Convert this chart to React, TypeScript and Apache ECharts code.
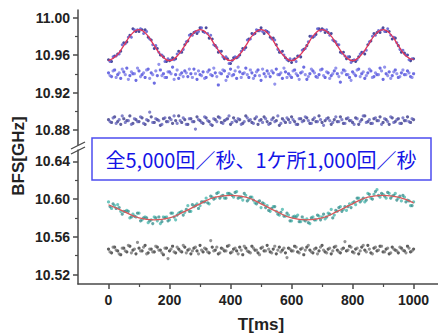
import React, { useEffect, useRef } from "react";
import * as echarts from "echarts";

// ---- data ----
const TIME_A = [0,10,20,30,40,50,60,70,80,90,100,110,120,130,140,150,160,170,180,190,200,210,220,230,240,250,260,270,280,290,300,310,320,330,340,350,360,370,380,390,400,410,420,430,440,450,460,470,480,490,500,510,520,530,540,550,560,570,580,590,600,610,620,630,640,650,660,670,680,690,700,710,720,730,740,750,760,770,780,790,800,810,820,830,840,850,860,870,880,890,900,910,920,930,940,950,960,970,980,990,1000];
const TIME_B = [5,15,25,35,45,55,65,75,85,95,105,115,125,135,145,155,165,175,185,195,205,215,225,235,245,255,265,275,285,295,305,315,325,335,345,355,365,375,385,395,405,415,425,435,445,455,465,475,485,495,505,515,525,535,545,555,565,575,585,595,605,615,625,635,645,655,665,675,685,695,705,715,725,735,745,755,765,775,785,795,805,815,825,835,845,855,865,875,885,895,905,915,925,935,945,955,965,975,985,995];

const UP_SINE_A = [10.955,10.953,10.959,10.961,10.964,10.973,10.974,10.981,10.988,10.985,
10.985,10.987,10.987,10.979,10.976,10.967,10.967,10.960,10.958,10.953,
10.954,10.957,10.956,10.964,10.963,10.971,10.975,10.982,10.984,10.983,
10.989,10.985,10.989,10.978,10.977,10.970,10.963,10.964,10.956,10.956,
10.951,10.957,10.957,10.960,10.967,10.968,10.977,10.983,10.983,10.986,
10.989,10.983,10.985,10.979,10.978,10.971,10.963,10.964,10.957,10.954,
10.952,10.956,10.959,10.958,10.966,10.970,10.980,10.979,10.982,10.988,
10.988,10.984,10.984,10.983,10.975,10.971,10.963,10.963,10.956,10.958,
10.954,10.953,10.958,10.963,10.961,10.971,10.975,10.983,10.984,10.984,
10.989,10.985,10.985,10.977,10.978,10.970,10.963,10.962,10.960,10.954,
10.956];
const UP_SINE_B = [10.953,10.958,10.959,10.961,10.971,10.972,10.979,10.979,10.987,10.987,
10.988,10.983,10.985,10.977,10.971,10.970,10.963,10.960,10.953,10.956,
10.955,10.955,10.961,10.963,10.966,10.974,10.981,10.981,10.985,10.985,
10.989,10.984,10.983,10.981,10.971,10.968,10.964,10.958,10.958,10.951,
10.954,10.958,10.958,10.964,10.966,10.976,10.977,10.982,10.987,10.986,
10.985,10.986,10.984,10.977,10.976,10.966,10.963,10.960,10.955,10.956,
10.955,10.953,10.959,10.965,10.967,10.974,10.980,10.980,10.988,10.986,
10.987,10.987,10.981,10.976,10.974,10.971,10.962,10.959,10.958,10.952,
10.955,10.955,10.961,10.963,10.965,10.974,10.980,10.981,10.986,10.987,
10.985,10.988,10.981,10.979,10.973,10.966,10.965,10.960,10.955,10.956];

const BAND2_A = [10.941,10.937,10.944,10.939,10.935,10.942,10.946,10.938,10.940,10.933,
10.943,10.939,10.936,10.945,10.941,10.930,10.938,10.944,10.940,10.936,
10.942,10.947,10.939,10.935,10.941,10.943,10.937,10.940,10.945,10.934,
10.939,10.942,10.936,10.944,10.938,10.941,10.928,10.940,10.943,10.937,
10.945,10.939,10.935,10.942,10.940,10.946,10.936,10.941,10.938,10.944,
10.933,10.940,10.943,10.937,10.941,10.945,10.939,10.935,10.942,10.940,
10.936,10.944,10.938,10.941,10.947,10.934,10.940,10.943,10.937,10.939,
10.945,10.936,10.941,10.938,10.943,10.940,10.931,10.944,10.939,10.936,
10.942,10.938,10.945,10.940,10.935,10.941,10.943,10.937,10.939,10.946,
10.934,10.940,10.942,10.938,10.944,10.936,10.941,10.939,10.943,10.937,
10.940];
const BAND2_B = [10.938,10.943,10.936,10.941,10.945,10.939,10.934,10.942,10.940,10.946,
10.937,10.941,10.944,10.935,10.939,10.943,10.950,10.938,10.936,10.942,
10.940,10.934,10.944,10.939,10.937,10.941,10.945,10.936,10.940,10.943,
10.938,10.935,10.942,10.939,10.946,10.937,10.941,10.944,10.933,10.940,
10.938,10.943,10.947,10.936,10.941,10.939,10.944,10.935,10.942,10.938,
10.945,10.937,10.940,10.943,10.929,10.939,10.941,10.946,10.936,10.938,
10.943,10.940,10.934,10.942,10.939,10.937,10.945,10.941,10.936,10.944,
10.938,10.942,10.935,10.940,10.946,10.937,10.941,10.943,10.939,10.933,
10.940,10.944,10.937,10.942,10.938,10.945,10.936,10.941,10.939,10.943,
10.947,10.938,10.935,10.942,10.940,10.937,10.944,10.939,10.941,10.936];

const BAND3_A = [10.891,10.888,10.894,10.889,10.886,10.892,10.890,10.895,10.887,10.891,
10.889,10.893,10.886,10.890,10.894,10.888,10.891,10.885,10.892,10.889,
10.893,10.887,10.890,10.895,10.888,10.891,10.886,10.892,10.889,10.894,
10.890,10.887,10.893,10.889,10.885,10.891,10.894,10.888,10.890,10.892,
10.886,10.893,10.889,10.891,10.887,10.895,10.890,10.888,10.892,10.886,
10.891,10.894,10.889,10.887,10.893,10.890,10.885,10.892,10.888,10.891,
10.894,10.889,10.886,10.892,10.890,10.893,10.887,10.891,10.889,10.895,
10.888,10.890,10.893,10.886,10.891,10.889,10.894,10.887,10.892,10.890,
10.888,10.893,10.886,10.891,10.895,10.889,10.887,10.892,10.890,10.894,
10.888,10.891,10.886,10.893,10.889,10.892,10.887,10.890,10.894,10.888,
10.891];
const BAND3_B = [10.889,10.893,10.887,10.891,10.895,10.888,10.890,10.886,10.892,10.889,
10.894,10.887,10.891,10.899,10.888,10.892,10.890,10.886,10.893,10.889,
10.891,10.895,10.887,10.890,10.893,10.886,10.892,10.889,10.881,10.891,
10.888,10.894,10.890,10.886,10.892,10.889,10.893,10.887,10.891,10.895,
10.888,10.890,10.892,10.886,10.889,10.893,10.891,10.887,10.894,10.890,
10.888,10.892,10.886,10.891,10.889,10.895,10.887,10.890,10.893,10.888,
10.891,10.886,10.892,10.889,10.894,10.890,10.887,10.893,10.889,10.891,
10.885,10.892,10.890,10.888,10.894,10.889,10.891,10.887,10.893,10.890,
10.886,10.892,10.889,10.895,10.888,10.891,10.887,10.893,10.890,10.886,
10.892,10.889,10.894,10.888,10.891,10.887,10.893,10.890,10.889,10.892];

const LOW_SINE_A = [10.597,10.590,10.593,10.594,10.587,10.587,10.588,10.580,10.584,10.581,
10.585,10.578,10.581,10.575,10.578,10.581,10.577,10.574,10.581,10.581,
10.578,10.585,10.578,10.585,10.587,10.586,10.593,10.587,10.592,10.595,
10.593,10.597,10.601,10.595,10.602,10.601,10.607,10.603,10.601,10.606,
10.605,10.602,10.608,10.602,10.599,10.604,10.600,10.602,10.596,10.597,
10.591,10.595,10.593,10.587,10.592,10.587,10.583,10.589,10.582,10.583,
10.577,10.582,10.583,10.576,10.578,10.579,10.574,10.581,10.578,10.582,
10.581,10.579,10.585,10.589,10.583,10.587,10.592,10.589,10.588,10.595,
10.596,10.594,10.601,10.599,10.597,10.606,10.601,10.605,10.610,10.602,
10.605,10.601,10.606,10.603,10.606,10.601,10.598,10.602,10.599,10.593,
10.597];
const LOW_SINE_B = [10.592,10.595,10.590,10.591,10.584,10.587,10.587,10.581,10.582,10.585,
10.577,10.580,10.580,10.577,10.574,10.580,10.581,10.576,10.580,10.577,
10.585,10.581,10.583,10.586,10.583,10.589,10.587,10.594,10.593,10.590,
10.597,10.597,10.596,10.603,10.600,10.606,10.601,10.604,10.601,10.606,
10.604,10.607,10.601,10.602,10.606,10.598,10.602,10.599,10.595,10.598,
10.596,10.591,10.588,10.590,10.592,10.584,10.586,10.582,10.585,10.577,
10.581,10.581,10.576,10.581,10.577,10.575,10.580,10.578,10.583,10.578,
10.584,10.581,10.584,10.580,10.588,10.591,10.587,10.592,10.592,10.591,
10.597,10.601,10.597,10.601,10.599,10.605,10.600,10.608,10.604,10.606,
10.603,10.607,10.601,10.604,10.599,10.603,10.604,10.597,10.598,10.593];

const LOW_A = [10.547,10.543,10.549,10.545,10.541,10.548,10.544,10.550,10.546,10.542,
10.548,10.545,10.551,10.543,10.547,10.544,10.549,10.546,10.541,10.548,
10.545,10.550,10.543,10.547,10.544,10.549,10.546,10.542,10.548,10.545,
10.551,10.544,10.547,10.543,10.549,10.546,10.542,10.548,10.545,10.550,
10.543,10.547,10.545,10.549,10.541,10.548,10.544,10.550,10.546,10.543,
10.548,10.545,10.551,10.544,10.547,10.542,10.549,10.546,10.543,10.548,
10.545,10.550,10.544,10.547,10.541,10.549,10.546,10.543,10.548,10.545,
10.551,10.544,10.547,10.542,10.549,10.546,10.543,10.548,10.545,10.550,
10.544,10.547,10.542,10.549,10.546,10.551,10.543,10.548,10.545,10.550,
10.544,10.547,10.542,10.549,10.546,10.543,10.548,10.545,10.550,10.544,
10.547];
const LOW_B = [10.544,10.549,10.546,10.542,10.548,10.545,10.551,10.543,10.547,10.554,
10.545,10.549,10.542,10.547,10.544,10.550,10.546,10.543,10.548,10.537,
10.547,10.544,10.549,10.545,10.551,10.543,10.547,10.545,10.549,10.542,
10.546,10.548,10.544,10.556,10.545,10.549,10.543,10.547,10.545,10.551,
10.544,10.548,10.542,10.546,10.550,10.545,10.543,10.548,10.546,10.541,
10.549,10.545,10.547,10.543,10.550,10.546,10.544,10.548,10.538,10.547,
10.545,10.549,10.543,10.548,10.546,10.551,10.544,10.547,10.542,10.549,
10.546,10.543,10.548,10.545,10.550,10.544,10.547,10.555,10.546,10.549,
10.543,10.548,10.545,10.551,10.544,10.547,10.542,10.549,10.546,10.550,
10.544,10.548,10.543,10.547,10.545,10.549,10.546,10.543,10.548,10.545];

const FIT_T_UP = [0,25,50,75,100,125,150,175,200,225,250,275,300,325,350,375,400,425,450,475,500,525,550,575,600,625,650,675,700,725,750,775,800,825,850,875,900,925,950,975,1000];
const FIT_UP = [10.954,10.959,10.970,10.982,10.987,10.982,10.970,10.959,10.954,10.959,10.970,10.982,10.987,10.982,10.970,10.959,10.954,10.959,10.970,10.982,10.987,10.982,10.970,10.959,10.954,10.959,10.970,10.982,10.987,10.982,10.970,10.959,10.954,10.959,10.970,10.982,10.987,10.982,10.970,10.959,10.955];
const FIT_T_LOW = [0,50,100,150,200,250,300,350,400,450,500,550,600,650,700,750,800,850,900,950,1000];
const FIT_LOW = [10.594,10.587,10.580,10.578,10.580,10.587,10.595,10.602,10.604,10.602,10.595,10.587,10.580,10.578,10.580,10.587,10.595,10.602,10.604,10.602,10.596];

const X_TICKS = [0, 200, 400, 600, 800, 1000];
const X_MINOR = [100, 300, 500, 700, 900];
const Y_UP_TICKS = [10.88, 10.92, 10.96, 11.0];
const Y_UP_MINOR = [10.9, 10.94, 10.98];
const Y_LOW_TICKS = [10.52, 10.56, 10.6, 10.64];
const Y_LOW_MINOR = [10.54, 10.58, 10.62];

const NOTE = "全5,000回／秒、1ケ所1,000回／秒";

const pairs = (ts: number[], vs: number[]) => ts.map((t, i) => [t, vs[i]]);

const FONT = "'Liberation Sans', Arial, sans-serif";
const AXIS_COLOR = "#4a4a4a";

export default function App() {
  const ref = useRef<HTMLDivElement>(null);
  useEffect(() => {
    if (!ref.current) return;
    const chart = echarts.init(ref.current, null, { renderer: "svg" });
    const label = { show: true, color: "#222", fontWeight: "bold" as const, fontSize: 14, fontFamily: FONT };
    const mainX = (gridIndex: number, show: boolean) => ({
      type: "value" as const, gridIndex, min: -100, max: 1080, show,
      axisLine: { show: true, onZero: false, lineStyle: { color: AXIS_COLOR, width: 1.5 } },
      axisTick: { show: true, inside: false, length: 5, customValues: X_TICKS, lineStyle: { color: AXIS_COLOR, width: 1.5 } },
      axisLabel: { ...label, margin: 9, customValues: X_TICKS, formatter: (v: number) => String(v) },
      splitLine: { show: false },
    });
    const minorX = (gridIndex: number) => ({
      type: "value" as const, gridIndex, min: -100, max: 1080, position: "bottom" as const,
      axisLine: { show: false, onZero: false },
      axisTick: { show: true, length: 3, customValues: X_MINOR, lineStyle: { color: AXIS_COLOR, width: 1.2 } },
      axisLabel: { show: false },
      splitLine: { show: false },
    });
    const mainY = (gridIndex: number, min: number, max: number, ticks: number[]) => ({
      type: "value" as const, gridIndex, min, max,
      axisLine: { show: true, onZero: false, lineStyle: { color: AXIS_COLOR, width: 1.5 } },
      axisTick: { show: true, length: 5, customValues: ticks, lineStyle: { color: AXIS_COLOR, width: 1.5 } },
      axisLabel: { ...label, margin: 8, customValues: ticks, formatter: (v: number) => v.toFixed(2) },
      splitLine: { show: false },
    });
    const minorY = (gridIndex: number, min: number, max: number, ticks: number[]) => ({
      type: "value" as const, gridIndex, min, max, position: "left" as const,
      axisLine: { show: false, onZero: false },
      axisTick: { show: true, length: 3, customValues: ticks, lineStyle: { color: AXIS_COLOR, width: 1.2 } },
      axisLabel: { show: false },
      splitLine: { show: false },
    });
    const scatter = (name: string, ts: number[], vs: number[], color: string, xi: number, yi: number, size = 3.2, opacity = 0.75) => ({
      name, type: "scatter" as const, xAxisIndex: xi, yAxisIndex: yi, data: pairs(ts, vs),
      symbolSize: size, itemStyle: { color, opacity }, silent: true,
    });
    const fit = (name: string, ts: number[], vs: number[], color: string, xi: number, yi: number) => ({
      name, type: "line" as const, xAxisIndex: xi, yAxisIndex: yi, data: pairs(ts, vs),
      smooth: 0.5, showSymbol: false, lineStyle: { color, width: 1.3 }, z: 5, silent: true,
    });

    chart.setOption({
      animation: false,
      backgroundColor: "#ffffff",
      grid: [
        { left: 78, top: 10, width: 360, height: 135 },
        { left: 78, top: 150, width: 360, height: 134 },
      ],
      xAxis: [mainX(0, false), mainX(1, true), minorX(1)],
      yAxis: [
        mainY(0, 10.864, 11.008, Y_UP_TICKS),
        minorY(0, 10.864, 11.008, Y_UP_MINOR),
        mainY(1, 10.51, 10.652, Y_LOW_TICKS),
        minorY(1, 10.51, 10.652, Y_LOW_MINOR),
      ],
      series: [
        scatter("band3a", TIME_A, BAND3_A, "#2e2e80", 0, 0),
        scatter("band3b", TIME_B, BAND3_B, "#5a5ab8", 0, 0),
        scatter("band2a", TIME_A, BAND2_A, "#3c3cd8", 0, 0),
        scatter("band2b", TIME_B, BAND2_B, "#7070e6", 0, 0),
        scatter("upA", TIME_A, UP_SINE_A, "#2c2c88", 0, 0, 3, 0.85),
        scatter("upB", TIME_B, UP_SINE_B, "#5c5cd0", 0, 0, 3, 0.85),
        fit("fitUp", FIT_T_UP, FIT_UP, "#e0365a", 0, 0),
        scatter("lowA", TIME_A, LOW_A, "#2a2a2a", 1, 2),
        scatter("lowB", TIME_B, LOW_B, "#6e6e6e", 1, 2),
        scatter("lsA", TIME_A, LOW_SINE_A, "#3fb3a8", 1, 2),
        scatter("lsB", TIME_B, LOW_SINE_B, "#2f8a88", 1, 2),
        fit("fitLow", FIT_T_LOW, FIT_LOW, "#d8585a", 1, 2),
      ],
      graphic: [
        { type: "line", shape: { x1: 71, y1: 149, x2: 85, y2: 142 }, style: { stroke: AXIS_COLOR, lineWidth: 1.3 }, z: 10 },
        { type: "line", shape: { x1: 71, y1: 154, x2: 85, y2: 147 }, style: { stroke: AXIS_COLOR, lineWidth: 1.3 }, z: 10 },
        {
          type: "rect", shape: { x: 92, y: 138, width: 339, height: 42 },
          style: { fill: "#ffffff", stroke: "#4d4df0", lineWidth: 1.5 }, z: 20,
        },
        {
          type: "text", x: 261, y: 159, z: 21,
          style: { text: NOTE, fill: "#1414e6", fontSize: 20, fontFamily: "'Noto Sans CJK JP', 'Noto Sans', sans-serif", align: "center", verticalAlign: "middle" },
        },
        {
          type: "text", x: 18, y: 156, rotation: Math.PI / 2, z: 21,
          style: { text: "BFS[GHz]", fill: "#222", fontSize: 17, fontWeight: "bold", fontFamily: FONT, align: "center", verticalAlign: "middle" },
        },
        {
          type: "text", x: 261, y: 324, z: 21,
          style: { text: "T[ms]", fill: "#222", fontSize: 17, fontWeight: "bold", fontFamily: FONT, align: "center", verticalAlign: "middle" },
        },
      ],
    });
    return () => chart.dispose();
  }, []);
  return <div ref={ref} style={{ position: "fixed", left: 0, top: 0, width: 438, height: 334 }} />;
}
